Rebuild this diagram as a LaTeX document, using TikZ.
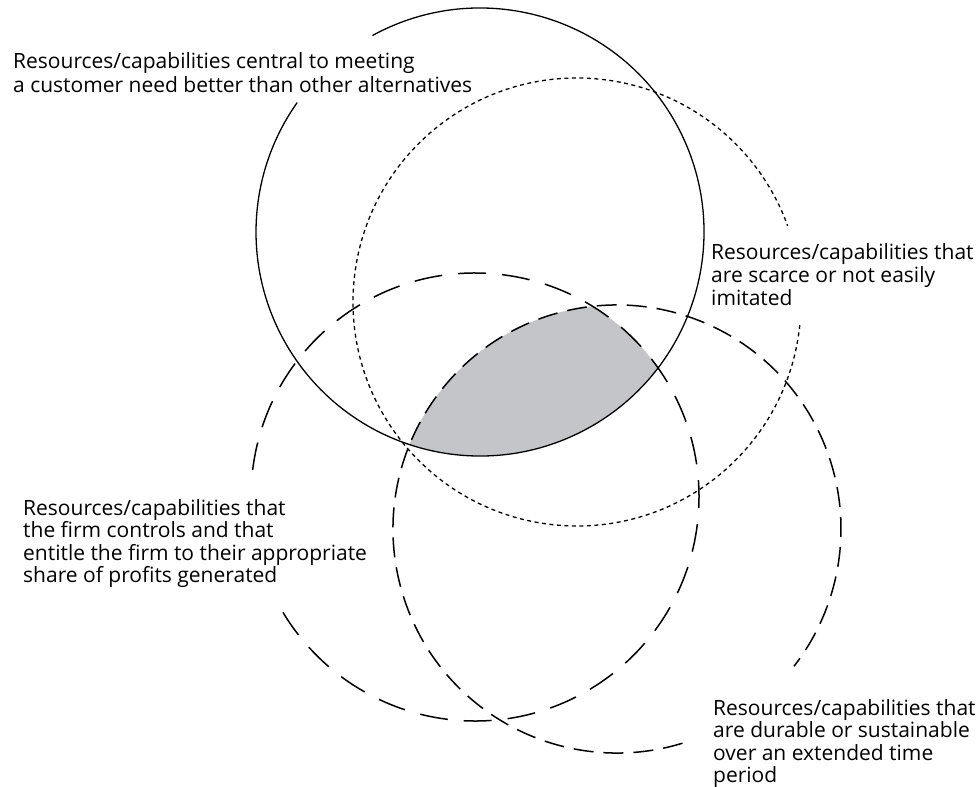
\documentclass[tikz,border=0pt]{standalone}
\usepackage{fontspec}
\setmainfont{Open Sans}
\definecolor{shadegray}{RGB}{196,197,200}
\begin{document}
\begin{tikzpicture}[x=1pt,y=-1pt,
  ringline/.style={line width=1.3pt, draw=black},
  dotline/.style={line width=1.3pt, dash pattern=on 4pt off 3.5pt},
  longdash/.style={line width=1.5pt, dash pattern=on 28pt off 16pt},
  middash/.style={line width=1.5pt, dash pattern=on 20pt off 10pt},
  lab/.style={anchor=north west, inner sep=0pt, align=left, font=\fontsize{21}{22.6}\selectfont}]
\useasboundingbox (0,0) rectangle (978,787);
\fill[white] (0,0) rectangle (978,787);
\coordinate (cneed) at (480,232);
\coordinate (cscarce) at (577,302);
\coordinate (ccontrol) at (475,497);
\coordinate (cdurable) at (617,529);
% shaded intersection of the four sets
\begin{scope}
\clip (cneed) circle[radius=224];
\clip (cscarce) circle[radius=224];
\clip (ccontrol) circle[radius=224];
\clip (cdurable) circle[radius=224];
\fill[shadegray] (0,0) rectangle (978,787);
\end{scope}
% circles, interrupted where the labels sit
\draw[ringline] (cneed) ++(-118.7:224) arc[start angle=-118.7, end angle=215.3, radius=224];
\draw[dotline] (cscarce) ++(5.9:224) arc[start angle=5.9, end angle=340.1, radius=224];
\draw[longdash] (ccontrol) ++(186.9:224) arc[start angle=186.9, end angle=509, radius=224];
\draw[middash] (cdurable) ++(73:224) arc[start angle=73, end angle=397.8, radius=224];
% labels
\node[lab, font=\fontsize{21}{24.5}\selectfont] (lneed) at (13,52) {Resources/capabilities central to meeting\\a customer need better than other alternatives};
\node[lab, font=\fontsize{21}{23}\selectfont] (lscarce) at (711,243) {Resources/capabilities that\\are scarce or not easily\\imitated};
\node[lab] (lcontrol) at (23,499) {Resources/capabilities that\\the firm controls and that\\entitle the firm to their appropriate\\share of profits generated};
\node[lab] (ldurable) at (713,699) {Resources/capabilities that\\are durable or sustainable\\over an extended time\\period};
\end{tikzpicture}
\end{document}
